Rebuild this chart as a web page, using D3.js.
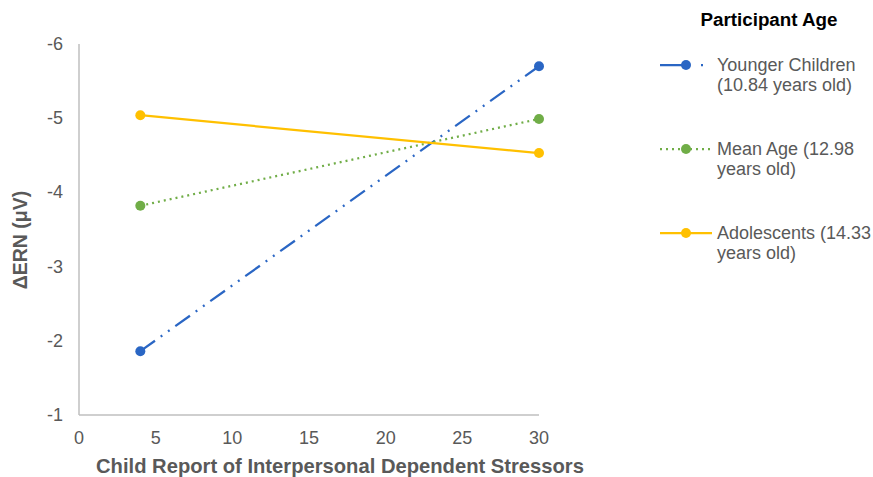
<!DOCTYPE html>
<html>
<head>
<meta charset="utf-8">
<script src="https://cdn.jsdelivr.net/npm/d3@7"></script>
<style>
  body { margin: 0; background: #fff; }
  text { font-family: Arial, "Liberation Sans", sans-serif; }
</style>
</head>
<body>
<div id="chart"></div>
<script>
// data
const xValues = [4, 30];
const younger = [-1.86, -5.70];
const meanAge = [-3.82, -4.99];
const adolescents = [-5.04, -4.53];
const xTicks = [0, 5, 10, 15, 20, 25, 30];
const yTicks = [-6, -5, -4, -3, -2, -1];

const series = [
    {name: ["Younger Children", "(10.84 years old)"], values: younger, color: "#2a66c4", dash: "18,7,2,7,2,7"},
    {name: ["Mean Age (12.98", "years old)"], values: meanAge, color: "#70ad47", dash: "2,4"},
    {name: ["Adolescents (14.33", "years old)"], values: adolescents, color: "#ffc000", dash: null}
];

const width = 873;
const height = 477;

const svg = d3.select("#chart").append("svg")
    .attr("width", width)
    .attr("height", height);

const x = d3.scaleLinear().domain([0, 30]).range([79, 539]);
const y = d3.scaleLinear().domain([-1, -6]).range([415, 44]);

const grey = "#595959";

// axis lines
svg.append("line")
    .attr("x1", x(0)).attr("x2", x(0))
    .attr("y1", y(-6)).attr("y2", y(-1))
    .attr("stroke", "#bfbfbf").attr("stroke-width", 1.5);
svg.append("line")
    .attr("x1", x(0)).attr("x2", x(30))
    .attr("y1", y(-1)).attr("y2", y(-1))
    .attr("stroke", "#bfbfbf").attr("stroke-width", 1.5);

// tick labels
svg.append("g").selectAll("text")
    .data(xTicks)
    .enter().append("text")
    .attr("x", d => x(d))
    .attr("y", 444)
    .attr("text-anchor", "middle")
    .attr("fill", grey)
    .style("font-size", "18px")
    .text(d => d);

svg.append("g").selectAll("text")
    .data(yTicks)
    .enter().append("text")
    .attr("x", 63)
    .attr("y", d => y(d) + 6)
    .attr("text-anchor", "end")
    .attr("fill", grey)
    .style("font-size", "18px")
    .text(d => d);

// axis titles
svg.append("text")
    .attr("x", 340)
    .attr("y", 473)
    .attr("text-anchor", "middle")
    .attr("fill", grey)
    .style("font-size", "20.2px")
    .style("font-weight", "bold")
    .text("Child Report of Interpersonal Dependent Stressors");

svg.append("text")
    .attr("transform", "translate(27,240) rotate(-90)")
    .attr("text-anchor", "middle")
    .attr("fill", grey)
    .style("font-size", "19.5px")
    .style("font-weight", "bold")
    .text("ΔERN (μV)");

// lines and markers
const line = d3.line()
    .x((d, i) => x(xValues[i]))
    .y(d => y(d));

series.forEach(s => {
    svg.append("path")
        .datum(s.values)
        .attr("d", line)
        .attr("fill", "none")
        .attr("stroke", s.color)
        .attr("stroke-width", 2.25)
        .attr("stroke-dasharray", s.dash);

    svg.append("g").selectAll("circle")
        .data(s.values)
        .enter().append("circle")
        .attr("cx", (d, i) => x(xValues[i]))
        .attr("cy", d => y(d))
        .attr("r", 5)
        .attr("fill", s.color);
});

// legend
svg.append("text")
    .attr("x", 769)
    .attr("y", 26)
    .attr("text-anchor", "middle")
    .attr("fill", "#000")
    .style("font-size", "18.8px")
    .style("font-weight", "bold")
    .text("Participant Age");

const legend = svg.append("g").selectAll("g")
    .data(series)
    .enter().append("g")
    .attr("transform", (d, i) => `translate(0,${65 + i * 84})`);

legend.append("line")
    .attr("x1", 660).attr("x2", 712)
    .attr("y1", 0).attr("y2", 0)
    .attr("stroke", d => d.color)
    .attr("stroke-width", 2.25)
    .attr("stroke-dasharray", d => d.dash ? (d.dash === "2,4" ? "2,4" : "28,13,2,20") : null);

legend.append("circle")
    .attr("cx", 686)
    .attr("cy", 0)
    .attr("r", 5)
    .attr("fill", d => d.color);

legend.append("text")
    .attr("x", 717)
    .attr("y", 6)
    .attr("fill", grey)
    .style("font-size", "18px")
    .selectAll("tspan")
    .data(d => d.name)
    .enter().append("tspan")
    .attr("x", 717)
    .attr("dy", (d, i) => i === 0 ? 0 : 19.5)
    .text(d => d);
</script>
</body>
</html>
